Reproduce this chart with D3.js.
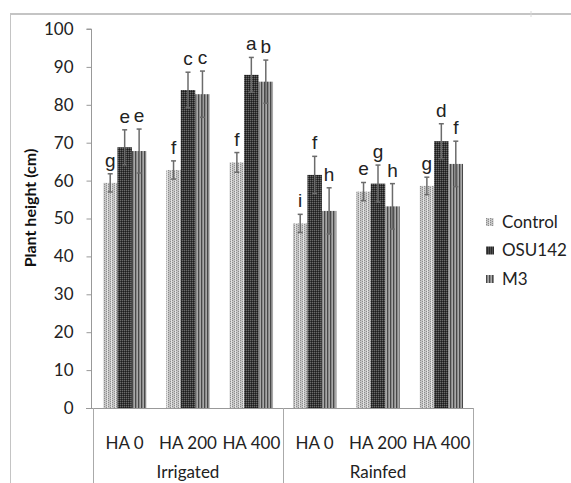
<!DOCTYPE html>
<html>
<head>
<meta charset="utf-8">
<script src="https://cdn.jsdelivr.net/npm/d3@7"></script>
<style>
  body { margin: 0; background: #fff; }
  svg { display: block; }
  .tick-label { font-family: Lato, "Open Sans", sans-serif; font-size: 17px; fill: #222; }
  .cat-label { font-family: Lato, "Open Sans", sans-serif; font-size: 17px; fill: #222; }
  .sig { font-family: "Liberation Sans", Arial, sans-serif; font-size: 19px; fill: #222; }
</style>
</head>
<body>
<svg width="571" height="483"></svg>
<script>
// chart data
var conditions = ["Irrigated", "Rainfed"];
var doses = ["HA 0", "HA 200", "HA 400"];
var seriesNames = ["Control", "OSU142", "M3"];
var controlValues = [59.4, 62.8, 64.8, 48.7, 57.1, 58.6];
var osuValues = [68.8, 83.9, 87.9, 61.5, 59.2, 70.4];
var m3Values = [67.8, 82.8, 86.1, 52.0, 53.2, 64.4];
var controlErr = [2.4, 2.4, 2.6, 2.4, 2.4, 2.3];
var osuErr = [4.6, 4.7, 4.6, 4.9, 4.9, 4.6];
var m3Err = [5.8, 6.1, 5.7, 6.1, 6.0, 6.0];
var controlLetters = ["g", "f", "f", "i", "e", "g"];
var osuLetters = ["e", "c", "a", "f", "g", "d"];
var m3Letters = ["e", "c", "b", "h", "h", "f"];
var yTicks = [0, 10, 20, 30, 40, 50, 60, 70, 80, 90, 100];

var svg = d3.select("svg"),
  plotLeft = 93, plotRight = 473, plotTop = 29, plotBottom = 408;

// build one row per bar group
var groups = [];
conditions.forEach(function (c) {
  doses.forEach(function (d) { groups.push(c + "|" + d); });
});
var seriesVals = [controlValues, osuValues, m3Values];
var seriesErr = [controlErr, osuErr, m3Err];
var seriesLetters = [controlLetters, osuLetters, m3Letters];

var x0 = d3.scaleBand().domain(groups).range([plotLeft, plotRight]).paddingInner(0).paddingOuter(0);
var x1 = d3.scaleBand().domain(seriesNames).range([0, x0.bandwidth()]).paddingOuter(0.69).paddingInner(0);
var y = d3.scaleLinear().domain([0, 100]).range([plotBottom, plotTop]);

// patterns for the bars
var defs = svg.append("defs");
function makePattern(id, w, h, cells) {
  var p = defs.append("pattern").attr("id", id).attr("patternUnits", "userSpaceOnUse")
    .attr("width", w).attr("height", h);
  cells.forEach(function (c) {
    p.append("rect").attr("x", c[0]).attr("y", c[1]).attr("width", c[2]).attr("height", c[3]).attr("fill", c[4]);
  });
}
makePattern("pat-control", 4, 2, [
  [0, 0, 4, 2, "#c4c4c4"], [0, 0, 1, 1, "#8c8c8c"], [2, 1, 1, 1, "#8c8c8c"], [3, 0, 1, 2, "#e2e2e2"]
]);
makePattern("pat-osu", 2, 2, [
  [0, 0, 2, 2, "#383838"], [0, 0, 1, 1, "#6a6a6a"], [1, 1, 1, 1, "#1c1c1c"]
]);
makePattern("pat-m3", 3, 2, [
  [0, 0, 3, 2, "#8a8a8a"], [0, 0, 1, 2, "#484848"], [2, 0, 1, 2, "#a8a8a8"]
]);
var fills = ["url(#pat-control)", "url(#pat-osu)", "url(#pat-m3)"];

// outer frame
svg.append("line").attr("x1", 10).attr("x2", 571).attr("y1", 14).attr("y2", 14)
  .attr("stroke", "#c4c4c4").attr("stroke-width", 2);
svg.append("line").attr("x1", 10.5).attr("x2", 10.5).attr("y1", 14).attr("y2", 483)
  .attr("stroke", "#c4c4c4").attr("stroke-width", 1);
svg.append("line").attr("x1", 531).attr("x2", 531).attr("y1", 11).attr("y2", 17)
  .attr("stroke", "#d8d8d8").attr("stroke-width", 1);

// y axis
var yAxis = d3.axisLeft(y).tickValues(yTicks).tickSize(5).tickPadding(13);
var ya = svg.append("g").attr("transform", "translate(" + (plotLeft - 1.5) + ",0)").call(yAxis);
ya.attr("font-size", null).attr("font-family", null);
ya.select(".domain").attr("stroke", "#999").attr("d", "M-5," + plotTop + "H0V" + plotBottom);
ya.selectAll(".tick line").attr("stroke", "#999");
ya.selectAll(".tick text").attr("class", "tick-label");

svg.append("text")
  .attr("transform", "translate(36," + 208 + ") rotate(-90)")
  .attr("text-anchor", "middle")
  .style("font-family", "Lato, 'Open Sans', sans-serif").style("font-size", "16px").style("font-weight", "bold")
  .attr("fill", "#111")
  .text("Plant height (cm)");

// bars
var g = svg.append("g");
seriesNames.forEach(function (s, si) {
  groups.forEach(function (grp, gi) {
    var v = seriesVals[si][gi], e = seriesErr[si][gi];
    var bx = x0(grp) + x1(s), bw = x1.bandwidth();
    g.append("rect").attr("x", bx).attr("y", y(v)).attr("width", bw).attr("height", y(0) - y(v))
      .attr("fill", fills[si]);
    var cx = bx + bw / 2;
    g.append("line").attr("x1", cx).attr("x2", cx).attr("y1", y(v + e)).attr("y2", y(v - e))
      .attr("stroke", "#6b6b6b").attr("stroke-width", 1.5);
    g.append("line").attr("x1", cx - 2.5).attr("x2", cx + 2.5).attr("y1", y(v + e)).attr("y2", y(v + e))
      .attr("stroke", "#6b6b6b").attr("stroke-width", 1.5);
    g.append("line").attr("x1", cx - 2.5).attr("x2", cx + 2.5).attr("y1", y(v - e)).attr("y2", y(v - e))
      .attr("stroke", "#6b6b6b").attr("stroke-width", 1.5);
    g.append("text").attr("class", "sig").attr("x", cx).attr("y", y(v + e) - 7)
      .attr("text-anchor", "middle").text(seriesLetters[si][gi]);
  });
});

// x axis with two-level category labels
svg.append("line").attr("x1", plotLeft - 7).attr("x2", plotRight).attr("y1", plotBottom + 0.5).attr("y2", plotBottom + 0.5)
  .attr("stroke", "#999");
[plotLeft, (plotLeft + plotRight) / 2, plotRight].forEach(function (xv) {
  svg.append("line").attr("x1", xv + 0.5).attr("x2", xv + 0.5).attr("y1", plotBottom).attr("y2", 483)
    .attr("stroke", "#aaa");
});
groups.forEach(function (grp) {
  svg.append("text").attr("class", "cat-label").attr("x", x0(grp) + x0.bandwidth() / 2).attr("y", 449)
    .attr("text-anchor", "middle").text(grp.split("|")[1]);
});
conditions.forEach(function (c, ci) {
  var half = (plotRight - plotLeft) / 2;
  svg.append("text").attr("class", "cat-label").attr("x", plotLeft + half * ci + half / 2).attr("y", 478)
    .attr("text-anchor", "middle").text(c);
});

// legend
var legend = svg.append("g").attr("transform", "translate(486,222)");
seriesNames.forEach(function (s, i) {
  var row = legend.append("g").attr("transform", "translate(0," + (i * 28.5) + ")");
  row.append("rect").attr("x", 0).attr("y", -4).attr("width", 8).attr("height", 8).attr("fill", fills[i]);
  row.append("text").attr("class", "tick-label").attr("x", 16).attr("y", 0).attr("dy", "0.35em").text(s);
});
</script>
</body>
</html>
